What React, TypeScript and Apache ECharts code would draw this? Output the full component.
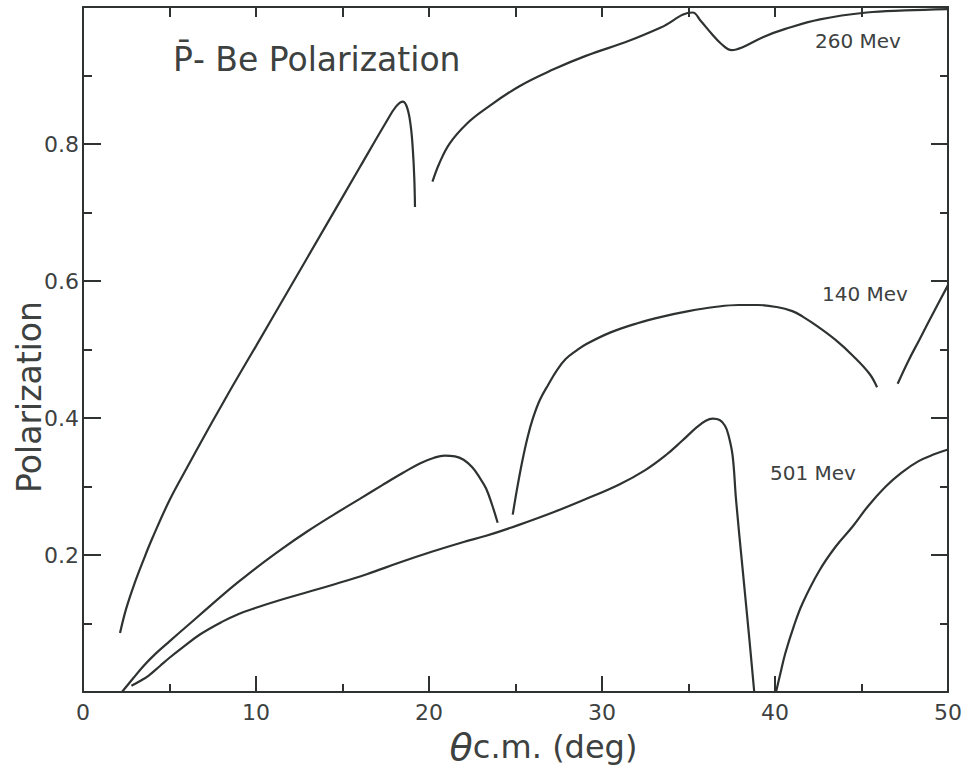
import React, { useEffect, useRef } from "react";
import * as echarts from "echarts";

// ---- data (theta c.m. in deg, polarization) ----
const xTicks = [0, 10, 20, 30, 40, 50];
const yTickLabels = [0.2, 0.4, 0.6, 0.8];

const p260a: [number, number][] = [
  [2.14, 0.086], [2.5, 0.122], [3, 0.16], [3.5, 0.193], [4, 0.224], [5, 0.28],
  [6, 0.327], [7, 0.373], [8, 0.418], [9, 0.462], [10, 0.505], [12, 0.592],
  [14, 0.679], [16, 0.766], [17.5, 0.831], [18.1, 0.855], [18.5, 0.862],
  [18.75, 0.852], [18.95, 0.825], [19.07, 0.79], [19.15, 0.75], [19.19, 0.708],
];
const p260b: [number, number][] = [
  [20.2, 0.745], [20.6, 0.772], [21.2, 0.801], [22.2, 0.83], [23.3, 0.852],
  [25.2, 0.884], [27.2, 0.909], [29.1, 0.929], [31.6, 0.951], [33.4, 0.97],
  [35.24, 0.992], [35.7, 0.98], [36.3, 0.962], [36.9, 0.946], [37.5, 0.937],
  [38.1, 0.941], [39.3, 0.956], [40.6, 0.968], [42.6, 0.982], [45.3, 0.992],
  [47.5, 0.995], [50, 0.997],
];
const p140a: [number, number][] = [
  [2.25, 0], [2.9, 0.02], [3.5, 0.038], [4.2, 0.056], [5, 0.074], [6, 0.096],
  [7, 0.118], [8, 0.14], [9, 0.161], [10, 0.181], [11.5, 0.209], [13, 0.235],
  [14.5, 0.259], [16, 0.282], [17.3, 0.302], [18.5, 0.32], [19.5, 0.334],
  [20.3, 0.342], [20.9, 0.345], [21.5, 0.344], [22.0, 0.339], [22.5, 0.328],
  [22.9, 0.314], [23.3, 0.297], [23.65, 0.273], [23.97, 0.247],
];
const p140b: [number, number][] = [
  [24.84, 0.259], [25.1, 0.298], [25.4, 0.338], [25.7, 0.372], [26.0, 0.399],
  [26.4, 0.426], [26.9, 0.449], [27.4, 0.47], [27.9, 0.486], [28.5, 0.498],
  [29.1, 0.508], [30.5, 0.525], [32, 0.538], [33.5, 0.548], [35, 0.556],
  [36.5, 0.562], [37.9, 0.565], [39, 0.565], [40.1, 0.562], [41, 0.556],
  [41.6, 0.548], [42.5, 0.533], [43.5, 0.514], [44.5, 0.491], [45.45, 0.465],
  [45.9, 0.445],
];
const p140c: [number, number][] = [
  [47.09, 0.45], [47.7, 0.483], [48.34, 0.514], [49.2, 0.556], [50, 0.594],
];
const p501a: [number, number][] = [
  [2.8, 0.009], [3.3, 0.016], [3.8, 0.024], [4.45, 0.038], [5, 0.05],
  [5.8, 0.066], [6.76, 0.084], [8, 0.102], [9, 0.114], [10, 0.123],
  [11.5, 0.135], [13, 0.146], [14.5, 0.157], [16.4, 0.172], [18.3, 0.189],
  [20.2, 0.205], [22, 0.219], [23.3, 0.228], [25.2, 0.244], [27.15, 0.262],
  [29, 0.281], [31, 0.303], [32.5, 0.324], [33.7, 0.346], [34.6, 0.366],
  [35.5, 0.387], [36.0, 0.396], [36.4, 0.399], [36.8, 0.397], [37.1, 0.389],
  [37.3, 0.376], [37.55, 0.345], [37.75, 0.28], [38.13, 0.179], [38.5, 0.082],
  [38.8, 0],
];
const p501b: [number, number][] = [
  [40.06, 0], [40.3, 0.026], [40.6, 0.057], [41.1, 0.097], [41.6, 0.13],
  [42.56, 0.177], [43.5, 0.212], [44.5, 0.242], [45.4, 0.272], [46.4, 0.3],
  [47.3, 0.32], [48.3, 0.337], [49.2, 0.347], [50, 0.354],
];

const energyLabels = ["260 Mev", "140 Mev", "501 Mev"];

const INK = "#2e3331";
const TEXT = "#3d413f";
const FONT = "DejaVu Sans";

export default function App() {
  const ref = useRef<HTMLDivElement>(null);

  useEffect(() => {
    if (!ref.current) return;
    const chart = echarts.init(ref.current, undefined, { renderer: "svg" });

    const mkSeries = (name: string, data: [number, number][]) => ({
      name,
      type: "line",
      data,
      xAxisIndex: 0,
      yAxisIndex: 0,
      showSymbol: false,
      smooth: 0.4,
      lineStyle: { color: INK, width: 2.2 },
      itemStyle: { color: INK },
      silent: true,
    });

    const axisLine = { show: true, onZero: false, lineStyle: { color: INK, width: 2 } };

    chart.setOption({
      animation: false,
      backgroundColor: "#ffffff",
      title: {
        text: "P\u0304- Be Polarization",
        left: 168,
        top: 38,
        textStyle: { fontFamily: FONT, fontSize: 33, fontWeight: "normal", color: TEXT },
      },
      grid: { left: 83, right: 24, top: 7, bottom: 79, containLabel: false, outerBoundsMode: "none" },
      xAxis: [
        {
          type: "value",
          position: "bottom",
          min: 0,
          max: 50,
          interval: 10,
          name: "{t|\u03b8}{r|c.m. (deg)}",
          nameLocation: "middle",
          nameGap: 30,
          nameTextStyle: {
            padding: [0, 0, 0, 56],
            rich: {
              t: { fontFamily: FONT, fontSize: 38, fontStyle: "italic", color: TEXT },
              r: { fontFamily: FONT, fontSize: 32, color: TEXT },
            },
          },
          axisLine,
          axisTick: { show: true, inside: true, length: 16, lineStyle: { color: INK, width: 2 } },
          minorTick: { show: true, splitNumber: 2, length: 8, lineStyle: { color: INK, width: 2 } },
          axisLabel: {
            fontFamily: FONT,
            fontSize: 22,
            color: TEXT,
            margin: 9,
            formatter: (v: number) => (xTicks.includes(v) ? String(v) : ""),
          },
          splitLine: { show: false },
        },
        {
          type: "value",
          position: "top",
          min: 0,
          max: 50,
          interval: 5,
          axisLine,
          axisTick: { show: true, inside: true, length: 10, lineStyle: { color: INK, width: 2 } },
          axisLabel: { show: false },
          splitLine: { show: false },
        },
      ],
      yAxis: [
        {
          type: "value",
          position: "left",
          min: 0,
          max: 1,
          interval: 0.2,
          axisLine,
          axisTick: { show: true, inside: true, length: 18, lineStyle: { color: INK, width: 2 } },
          minorTick: { show: true, splitNumber: 2, length: 9, lineStyle: { color: INK, width: 2 } },
          axisLabel: {
            fontFamily: FONT,
            fontSize: 22,
            color: TEXT,
            margin: 4,
            formatter: (v: number) =>
              yTickLabels.some((t) => Math.abs(t - v) < 1e-6) ? v.toFixed(1) : "",
          },
          splitLine: { show: false },
        },
        {
          type: "value",
          position: "right",
          min: 0,
          max: 1,
          interval: 0.2,
          axisLine,
          axisTick: { show: true, inside: true, length: 17, lineStyle: { color: INK, width: 2 } },
          minorTick: { show: true, splitNumber: 2, length: 8, lineStyle: { color: INK, width: 2 } },
          axisLabel: { show: false },
          splitLine: { show: false },
        },
      ],
      graphic: [
        {
          type: "text",
          x: 29,
          y: 397,
          rotation: Math.PI / 2,
          style: {
            text: "Polarization",
            fontFamily: FONT,
            fontSize: 33,
            fill: TEXT,
            align: "center",
            verticalAlign: "middle",
          },
        },
        {
          type: "text",
          left: 815,
          top: 31,
          style: { text: energyLabels[0], fontFamily: FONT, fontSize: 20, fill: TEXT },
        },
        {
          type: "text",
          left: 822,
          top: 284,
          style: { text: energyLabels[1], fontFamily: FONT, fontSize: 20, fill: TEXT },
        },
        {
          type: "text",
          left: 770,
          top: 463,
          style: { text: energyLabels[2], fontFamily: FONT, fontSize: 20, fill: TEXT },
        },
      ],
      series: [
        mkSeries("260 Mev", p260a),
        mkSeries("260 Mev", p260b),
        mkSeries("140 Mev", p140a),
        mkSeries("140 Mev", p140b),
        mkSeries("140 Mev", p140c),
        mkSeries("501 Mev", p501a),
        mkSeries("501 Mev", p501b),
      ],
    });

    return () => chart.dispose();
  }, []);

  return (
    <div
      ref={ref}
      style={{ position: "fixed", left: 0, top: 0, width: 972, height: 771, background: "#fff" }}
    />
  );
}
